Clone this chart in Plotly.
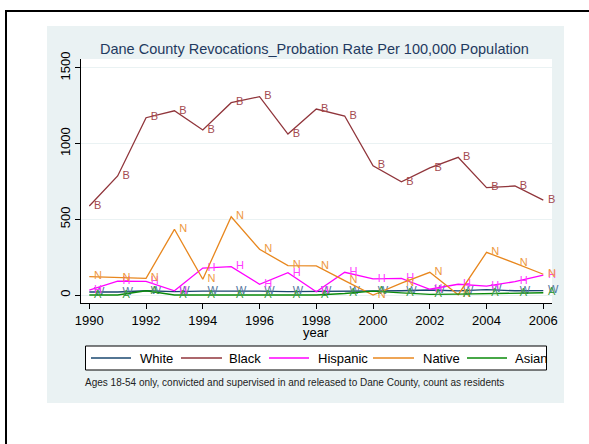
import plotly.graph_objects as go

# ---------------- data ----------------
years = list(range(1990, 2007))
white = [20, 20, 28, 22, 25, 26, 25, 22, 23, 25, 27, 28, 33, 27, 35, 28, 29]
black = [588, 786, 1171, 1217, 1090, 1270, 1310, 1063, 1228, 1182, 854, 748, 840, 909, 709, 720, 627]
hispanic = [33, 92, 90, 28, 178, 187, 71, 147, 22, 150, 106, 110, 38, 71, 59, 88, 132]
native = [121, 114, 110, 434, 104, 517, 302, 194, 192, 95, 0, 78, 150, 2, 282, 210, 137]
asian = [0, 0, 28, 0, 0, 0, 0, 0, 0, 10, 25, 14, 4, 6, 10, 14, 15]

series_names = ["White", "Black", "Hispanic", "Native", "Asian"]
series_letters = ["W", "B", "H", "N", "A"]
series_values = [white, black, hispanic, native, asian]
x_ticks = list(range(1990, 2007, 2))
y_ticks = [0, 500, 1000, 1500]

title_text = "Dane County Revocations_Probation Rate Per 100,000 Population"
x_title = "year"
note_text = "Ages 18-54 only, convicted and supervised in and released to Dane County, count as residents"

# ---------------- styling ----------------
line_colors = ["#1a476f", "#90353b", "#ff00ff", "#e8871e", "#0a8a0a"]
label_colors = ["#56789e", "#a44a50", "#ff3cff", "#ee9840", "#3c9c44"]
FONT = "Arial, Liberation Sans, sans-serif"

WIDTH, HEIGHT = 589, 444
L, R, T, B = 81, 552, 59, 303  # plot-area pixel bounds


def px(x):
    return (x - L) / (R - L)


def py(y):
    return (B - y) / (B - T)


fig = go.Figure()
for name, letter, vals, lc, tc in zip(series_names, series_letters, series_values,
                                      line_colors, label_colors):
    fig.add_trace(go.Scatter(
        x=years, y=vals, name=name,
        mode="lines+markers+text",
        line=dict(color=lc, width=1.3),
        marker=dict(size=6, color="rgba(0,0,0,0)"),
        text=[letter] * len(vals),
        textposition="middle right",
        textfont=dict(family=FONT, size=11, color=tc),
        cliponaxis=False,
        showlegend=False,
        hoverinfo="x+y+name",
    ))

shapes = [
    # graph region
    dict(type="rect", xref="paper", yref="paper", x0=px(47), x1=px(564),
         y0=py(403), y1=py(26), fillcolor="#eaf2f3", line=dict(width=0), layer="below"),
    # plot region
    dict(type="rect", xref="paper", yref="paper", x0=0, x1=1, y0=0, y1=1,
         fillcolor="white", line=dict(width=0), layer="below"),
    # outer frame
    dict(type="rect", xref="paper", yref="paper", x0=px(6), x1=px(640),
         y0=py(480), y1=py(11), fillcolor="rgba(0,0,0,0)",
         line=dict(color="black", width=2), layer="below"),
    # legend box
    dict(type="rect", xref="paper", yref="paper", x0=px(85.5), x1=px(546.5),
         y0=py(370), y1=py(346), fillcolor="white",
         line=dict(color="black", width=1), layer="above"),
]

legend_line_x = [(91, 131), (181, 222), (269, 309), (373, 414), (467, 507)]
legend_text_x = [137.5, 227, 316, 420.5, 513]
annotations = []
for (x0, x1), tx, name, lc in zip(legend_line_x, legend_text_x, series_names, line_colors):
    shapes.append(dict(type="line", xref="paper", yref="paper", x0=px(x0), x1=px(x1),
                       y0=py(358), y1=py(358), line=dict(color=lc, width=1.3)))
    annotations.append(dict(xref="paper", yref="paper", x=px(tx), y=py(358.5),
                            text=name, showarrow=False, xanchor="left", yanchor="middle",
                            font=dict(family=FONT, size=13, color="black")))

annotations.append(dict(xref="paper", yref="paper", x=px(314), y=py(49),
                        text=title_text, showarrow=False, xanchor="center", yanchor="middle",
                        font=dict(family=FONT, size=14.5, color="#1f3a60")))
annotations.append(dict(xref="paper", yref="paper", x=px(316), y=py(332),
                        text=x_title, showarrow=False, xanchor="center", yanchor="middle",
                        font=dict(family=FONT, size=13, color="black")))
annotations.append(dict(xref="paper", yref="paper", x=px(83), y=py(382),
                        text=note_text, showarrow=False, xanchor="left", yanchor="middle",
                        font=dict(family=FONT, size=10, color="#222222")))

fig.update_layout(
    width=WIDTH, height=HEIGHT,
    margin=dict(l=L, r=WIDTH - R, t=T, b=HEIGHT - B, pad=0),
    paper_bgcolor="white", plot_bgcolor="rgba(0,0,0,0)",
    font=dict(family=FONT, size=13, color="black"),
    shapes=shapes, annotations=annotations,
    showlegend=False,
    xaxis=dict(range=[1989.7075, 2006.3065], tickvals=x_ticks, ticks="outside",
               ticklen=5, tickcolor="black", showline=True, linecolor="black",
               linewidth=1, showgrid=False, zeroline=False,
               tickfont=dict(family=FONT, size=13, color="black")),
    yaxis=dict(range=[-52.8, 1558.8], tickvals=y_ticks, ticks="outside",
               ticklen=5, tickcolor="black", showline=True, linecolor="black",
               linewidth=1, showgrid=True, gridcolor="#eaf2f3", gridwidth=1,
               zeroline=False, tickangle=-90,
               tickfont=dict(family=FONT, size=13, color="black")),
)

fig.write_html(
    "out.html",
    config={"displayModeBar": False},
    post_script="document.body.style.margin='0';document.body.style.overflow='hidden';",
)
